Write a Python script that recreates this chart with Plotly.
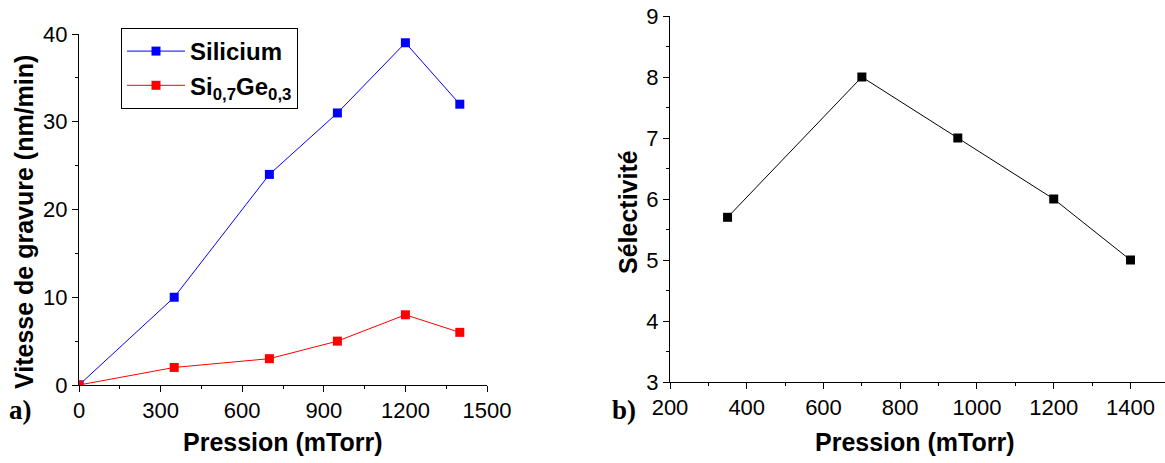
import plotly.graph_objects as go

pression_a = [0, 350, 700, 950, 1200, 1400]
silicium = [0, 10, 24, 31, 39, 32]
sige = [0, 2, 3, 5, 8, 6]

pression_b = [350, 700, 950, 1200, 1400]
selectivite = [5.7, 8, 7, 6, 5]

W, H = 1165, 463


def px(x):
    return x / W


def py(y):
    return 1 - y / H


fig = go.Figure()
fig.add_trace(go.Scatter(x=pression_a, y=silicium, mode="lines+markers",
                         name="<b>Silicium</b>",
                         line=dict(color="#0000ff", width=1),
                         marker=dict(symbol="square", size=9, color="#0000ff"),
                         xaxis="x", yaxis="y"))
fig.add_trace(go.Scatter(x=pression_a, y=sige, mode="lines+markers",
                         name="<b>Si<sub>0,7</sub>Ge<sub>0,3</sub></b>",
                         line=dict(color="#ff0000", width=1),
                         marker=dict(symbol="square", size=9, color="#ff0000"),
                         xaxis="x", yaxis="y"))
fig.add_trace(go.Scatter(x=pression_b, y=selectivite, mode="lines+markers",
                         showlegend=False,
                         line=dict(color="#000000", width=1),
                         marker=dict(symbol="square", size=9, color="#000000"),
                         xaxis="x2", yaxis="y2"))

tickfont = dict(family="Liberation Sans, Arial", size=22, color="black")
common = dict(showline=True, linecolor="black", linewidth=1, ticks="outside",
              ticklen=6, tickcolor="black", showgrid=False, zeroline=False,
              tickfont=tickfont, automargin=False)

fig.update_layout(
    width=W, height=H,
    margin=dict(l=0, r=0, t=0, b=0, autoexpand=False),
    plot_bgcolor="white", paper_bgcolor="white",
    xaxis=dict(domain=[px(79), px(487)], range=[0, 1500], tickvals=[0, 300, 600, 900, 1200, 1500],
               minor=dict(ticks="outside", ticklen=3, dtick=150, tickcolor="black"),
               anchor="y", **common),
    yaxis=dict(domain=[py(385), py(34)], range=[0, 40], tickvals=[0, 10, 20, 30, 40],
               minor=dict(ticks="outside", ticklen=3, dtick=5, tickcolor="black"),
               anchor="x", **common),
    xaxis2=dict(domain=[px(670), 1.0], range=[200, 1490], tickvals=[200, 400, 600, 800, 1000, 1200, 1400],
                minor=dict(ticks="outside", ticklen=3, dtick=100, tickcolor="black"),
                anchor="y2", **common),
    yaxis2=dict(domain=[py(382), py(16)], range=[3, 9], tickvals=[3, 4, 5, 6, 7, 8, 9],
                minor=dict(ticks="outside", ticklen=3, dtick=0.5, tickcolor="black"),
                anchor="x2", **common),
    legend=dict(x=px(121), y=py(28), xanchor="left", yanchor="top",
                bgcolor="white", bordercolor="black", borderwidth=1,
                font=dict(family="Liberation Sans, Arial", size=24, color="black"),
                itemwidth=58, tracegroupgap=0),
    showlegend=True,
)

title_font = dict(family="Liberation Sans, Arial", size=25, color="black")
serif_font = dict(family="Liberation Serif, Times New Roman", size=27, color="black")
annots = [
    dict(text="<b>Pression (mTorr)</b>", x=px(283), y=py(442), font=title_font),
    dict(text="<b>Pression (mTorr)</b>", x=px(915), y=py(442), font=title_font),
    dict(text="<b>Vitesse de gravure (nm/min)</b>", x=px(24), y=py(222), textangle=-90, font=title_font),
    dict(text="<b>Sélectivité</b>", x=px(628), y=py(212), textangle=-90, font=title_font),
    dict(text="<b>a)</b>", x=px(20), y=py(410), font=serif_font),
    dict(text="<b>b)</b>", x=px(624), y=py(410), font=serif_font),
]
for a in annots:
    fig.add_annotation(xref="paper", yref="paper", showarrow=False,
                       xanchor="center", yanchor="middle", **a)

fig.write_html("out.html", config={"displayModeBar": False},
               post_script="document.body.style.margin='0';")
